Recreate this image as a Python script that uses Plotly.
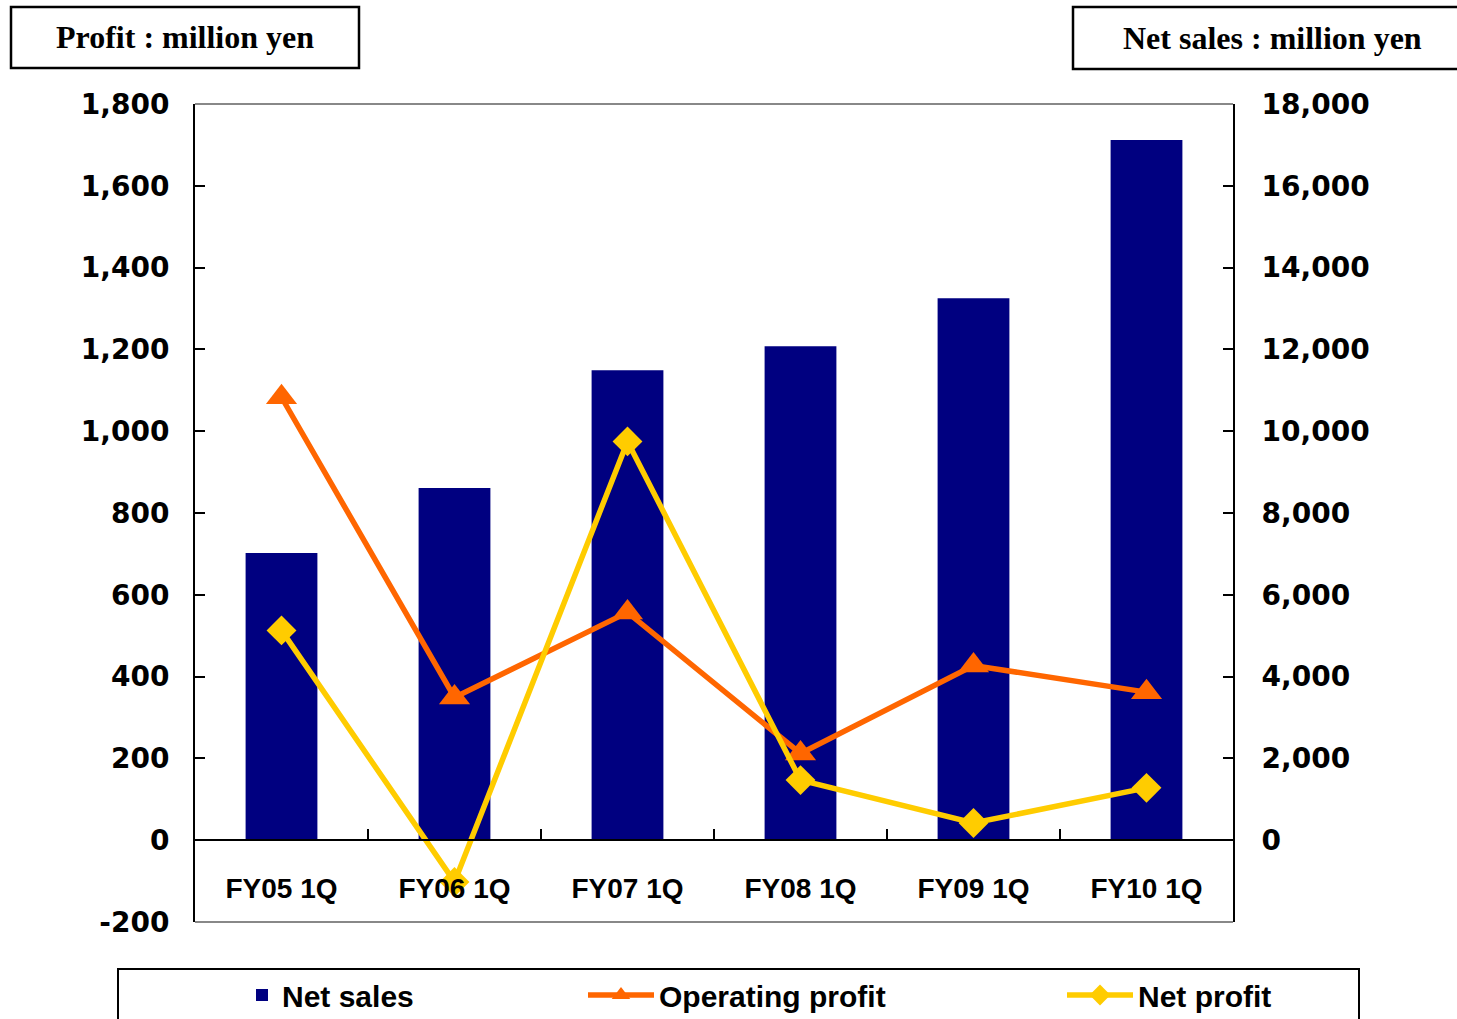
import plotly.graph_objects as go

# Quarterly results, FY05 1Q - FY10 1Q (million yen)
categories = ["FY05 1Q", "FY06 1Q", "FY07 1Q", "FY08 1Q", "FY09 1Q", "FY10 1Q"]
net_sales = [7020, 8610, 11490, 12080, 13250, 17120]
operating_profit = [1083, 349, 557, 212, 427, 362]
net_profit = [513, -102, 975, 147, 42, 128]

# Axis ticks
profit_ticks = [-200, 0, 200, 400, 600, 800, 1000, 1200, 1400, 1600, 1800]
profit_tick_labels = ["-200", "0", "200", "400", "600", "800", "1,000", "1,200", "1,400", "1,600", "1,800"]
sales_ticks = [-2000, 0, 2000, 4000, 6000, 8000, 10000, 12000, 14000, 16000, 18000]
sales_tick_labels = ["", "0", "2,000", "4,000", "6,000", "8,000", "10,000", "12,000", "14,000", "16,000", "18,000"]

NAVY = "#000080"
ORANGE = "#FF6600"
YELLOW = "#FFCC00"
SANS = "Liberation Sans"
NUM = "DejaVu Sans"
SERIF = "Liberation Serif"

W, H = 1457, 1019
ML, MR, MT, MB = 195, 224, 104, 97
PW, PH = W - ML - MR, H - MT - MB


def px(xp):
    """Page pixel x -> paper fraction."""
    return (xp - ML) / PW


def py(yp):
    """Page pixel y -> paper fraction."""
    return (H - MB - yp) / PH


fig = go.Figure()

# Bars on the sales axis (y), lines on the profit axis (y2) so they draw on top
fig.add_trace(go.Bar(
    x=categories, y=net_sales, name="Net sales",
    marker=dict(color=NAVY, line=dict(width=0)),
    yaxis="y", legend="legend", showlegend=True,
))
fig.add_trace(go.Scatter(
    x=categories, y=operating_profit, name="Operating profit",
    mode="lines+markers",
    line=dict(color=ORANGE, width=5.5),
    marker=dict(symbol="triangle-up", size=27, color=ORANGE),
    yaxis="y2", legend="legend2", showlegend=True,
))
fig.add_trace(go.Scatter(
    x=categories, y=net_profit, name="Net profit",
    mode="lines+markers",
    line=dict(color=YELLOW, width=5.5),
    marker=dict(symbol="diamond", size=23, color=YELLOW),
    yaxis="y2", legend="legend3", showlegend=True,
))

tick_font = dict(family=NUM, size=28, color="black", weight="bold")
legend_font = dict(family=SANS, size=30, color="black", weight="bold")

fig.update_layout(
    width=W, height=H,
    margin=dict(l=ML, r=MR, t=MT, b=MB, pad=0, autoexpand=False),
    paper_bgcolor="white", plot_bgcolor="white",
    showlegend=True,
    bargap=0.585,
    xaxis=dict(
        type="category", range=[-0.5, 5.5],
        anchor="free", position=0.1,
        showline=True, linecolor="black", linewidth=2,
        ticks="inside", tickson="boundaries", ticklen=10, tickwidth=1.5, tickcolor="black",
        tickfont=dict(family=SANS, size=28, color="black", weight="bold"),
        ticklabelstandoff=23,
        showgrid=False, zeroline=False,
    ),
    yaxis=dict(
        range=[-2000, 18000], tickvals=sales_ticks, ticktext=sales_tick_labels,
        side="right",
        showline=True, linecolor="black", linewidth=2,
        ticks="inside", ticklen=10, tickwidth=2, tickcolor="black",
        tickfont=tick_font, ticklabelstandoff=21,
        showgrid=False, zeroline=False,
    ),
    yaxis2=dict(
        range=[-200, 1800], tickvals=profit_ticks, ticktext=profit_tick_labels,
        overlaying="y", side="left",
        showline=True, linecolor="black", linewidth=2,
        ticks="inside", ticklen=10, tickwidth=2, tickcolor="black",
        tickfont=tick_font, ticklabelstandoff=18,
        showgrid=False, zeroline=False,
    ),
    legend=dict(orientation="h", x=px(242), y=py(995), xanchor="left", yanchor="middle",
                font=legend_font, bgcolor="rgba(0,0,0,0)", borderwidth=0),
    legend2=dict(orientation="h", x=px(583), y=py(995), xanchor="left", yanchor="middle",
                 font=legend_font, bgcolor="rgba(0,0,0,0)", borderwidth=0, itemwidth=66),
    legend3=dict(orientation="h", x=px(1062), y=py(995), xanchor="left", yanchor="middle",
                 font=legend_font, bgcolor="rgba(0,0,0,0)", borderwidth=0, itemwidth=66),
    shapes=[
        # top and bottom edges of the plot frame
        dict(type="line", xref="paper", yref="paper", x0=0, x1=1, y0=1, y1=1,
             line=dict(color="#888888", width=2), layer="below"),
        dict(type="line", xref="paper", yref="paper", x0=0, x1=1, y0=0, y1=0,
             line=dict(color="#888888", width=2), layer="below"),
        # unit boxes
        dict(type="rect", xref="paper", yref="paper",
             x0=px(11), x1=px(359), y0=py(68), y1=py(7),
             line=dict(color="black", width=2.5), fillcolor="rgba(0,0,0,0)"),
        dict(type="rect", xref="paper", yref="paper",
             x0=px(1073), x1=px(1480), y0=py(69), y1=py(7),
             line=dict(color="black", width=2.5), fillcolor="rgba(0,0,0,0)"),
        # legend frame
        dict(type="rect", xref="paper", yref="paper",
             x0=px(118), x1=px(1359), y0=py(1040), y1=py(969),
             line=dict(color="black", width=2), fillcolor="rgba(0,0,0,0)"),
    ],
    annotations=[
        dict(text="Profit : million yen", xref="paper", yref="paper",
             x=px(185), y=py(37), xanchor="center", yanchor="middle", showarrow=False,
             font=dict(family=SERIF, size=32, color="black", weight="bold")),
        dict(text="Net sales : million yen", xref="paper", yref="paper",
             x=px(1272), y=py(38), xanchor="center", yanchor="middle", showarrow=False,
             font=dict(family=SERIF, size=32, color="black", weight="bold")),
    ],
)

fig.write_html("out.html")
